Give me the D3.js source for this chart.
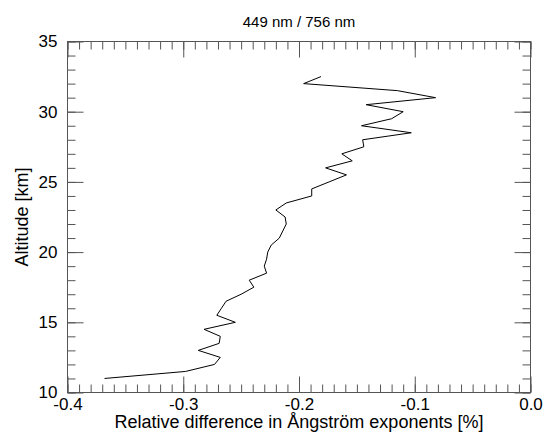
<!DOCTYPE html>
<html>
<head>
<meta charset="utf-8">
<script src="https://cdn.jsdelivr.net/npm/d3@7"></script>
<style>
	body { margin: 0; background: #fff; }
	text { font-family: "Liberation Sans", Arial, Helvetica, sans-serif; fill: #000; }
</style>
</head>
<body>
<svg id="chart"></svg>
<script>
const WIDTH = 545;
const HEIGHT = 435;
const LEFT = 67.5;
const RIGHT = 530.5;
const TOP = 41.5;
const BOTTOM = 392.5;
const MAJOR = 16;
const MINOR = 8;
const TICK_FONT = 17;
const LABEL_FONT = 18;

const title = "449 nm / 756 nm";
const xLabel = "Relative difference in Ångström exponents [%]";
const yLabel = "Altitude [km]";

// altitude of each sample, km
const altitude = [11, 11.5, 12, 12.5, 13, 13.5, 14, 14.5, 15, 15.5,
	16, 16.5, 17, 17.5, 18, 18.5, 19, 19.5, 20, 20.5,
	21, 21.5, 22, 22.5, 23, 23.5, 24, 24.5, 25, 25.5,
	26, 26.5, 27, 27.5, 28, 28.5, 29, 29.5, 30, 30.5,
	31, 31.5, 32, 32.5];
// relative difference
const diff = [-0.368, -0.298, -0.273, -0.268, -0.287, -0.269, -0.268, -0.282, -0.255, -0.271,
	-0.267, -0.263, -0.250, -0.239, -0.243, -0.228, -0.230, -0.228, -0.227, -0.224,
	-0.217, -0.214, -0.211, -0.212, -0.220, -0.211, -0.189, -0.189, -0.174, -0.159,
	-0.177, -0.154, -0.163, -0.144, -0.145, -0.103, -0.146, -0.120, -0.110, -0.142,
	-0.082, -0.115, -0.196, -0.181];

const xTicks = [-0.4, -0.3, -0.2, -0.1, 0.0];
const xMinor = d3.range(-0.4, 0.0001, 0.01);
const yTicks = [10, 15, 20, 25, 30, 35];
const yMinor = d3.range(10, 35.001, 1);

const svg = d3.select("#chart")
	.attr("width", WIDTH)
	.attr("height", HEIGHT);

const x = d3.scaleLinear().domain([-0.4, 0]).range([LEFT, RIGHT]);
const y = d3.scaleLinear().domain([10, 35]).range([BOTTOM, TOP]);

function styleAxis(g) {
	g.select(".domain").remove();
	g.selectAll("line").attr("stroke", "#555").attr("stroke-width", 1);
	g.selectAll("text").attr("font-size", TICK_FONT).attr("font-family", null);
}

// minor ticks on all four sides
svg.append("g").attr("transform", "translate(0," + BOTTOM + ")")
	.call(d3.axisBottom(x).tickValues(xMinor).tickSize(-MINOR).tickFormat(""))
	.call(styleAxis);
svg.append("g").attr("transform", "translate(0," + TOP + ")")
	.call(d3.axisTop(x).tickValues(xMinor).tickSize(-MINOR).tickFormat(""))
	.call(styleAxis);
svg.append("g").attr("transform", "translate(" + LEFT + ",0)")
	.call(d3.axisLeft(y).tickValues(yMinor).tickSize(-MINOR).tickFormat(""))
	.call(styleAxis);
svg.append("g").attr("transform", "translate(" + RIGHT + ",0)")
	.call(d3.axisRight(y).tickValues(yMinor).tickSize(-MINOR).tickFormat(""))
	.call(styleAxis);

// major ticks with labels
svg.append("g").attr("transform", "translate(0," + BOTTOM + ")")
	.call(d3.axisBottom(x).tickValues(xTicks).tickSize(-MAJOR).tickFormat(d => d3.format(".1f")(d).replace("−", "-")))
	.call(styleAxis)
	.call(g => g.selectAll("text").attr("y", 17).attr("dy", null));
svg.append("g").attr("transform", "translate(0," + TOP + ")")
	.call(d3.axisTop(x).tickValues(xTicks).tickSize(-MAJOR).tickFormat(""))
	.call(styleAxis);
svg.append("g").attr("transform", "translate(" + LEFT + ",0)")
	.call(d3.axisLeft(y).tickValues(yTicks).tickSize(-MAJOR).tickFormat(d3.format("d")))
	.call(styleAxis)
	.call(g => g.selectAll("text").attr("x", -10));
svg.append("g").attr("transform", "translate(" + RIGHT + ",0)")
	.call(d3.axisRight(y).tickValues(yTicks).tickSize(-MAJOR).tickFormat(""))
	.call(styleAxis);

// frame
svg.append("rect")
	.attr("x", LEFT).attr("y", TOP)
	.attr("width", RIGHT - LEFT).attr("height", BOTTOM - TOP)
	.attr("fill", "none").attr("stroke", "#555").attr("stroke-width", 1);

// data line
const line = d3.line()
	.x((d, i) => x(diff[i]))
	.y(d => y(d));
svg.append("path")
	.datum(altitude)
	.attr("d", line)
	.attr("fill", "none")
	.attr("stroke", "#000")
	.attr("stroke-width", 1);

// labels
svg.append("text")
	.attr("x", (LEFT + RIGHT) / 2).attr("y", 27)
	.attr("text-anchor", "middle").attr("font-size", 15)
	.text(title);
svg.append("text")
	.attr("x", (LEFT + RIGHT) / 2).attr("y", 428)
	.attr("text-anchor", "middle").attr("font-size", LABEL_FONT)
	.text(xLabel);
svg.append("text")
	.attr("transform", "translate(28," + 217 + ") rotate(-90)")
	.attr("text-anchor", "middle").attr("font-size", LABEL_FONT)
	.text(yLabel);
</script>
</body>
</html>
